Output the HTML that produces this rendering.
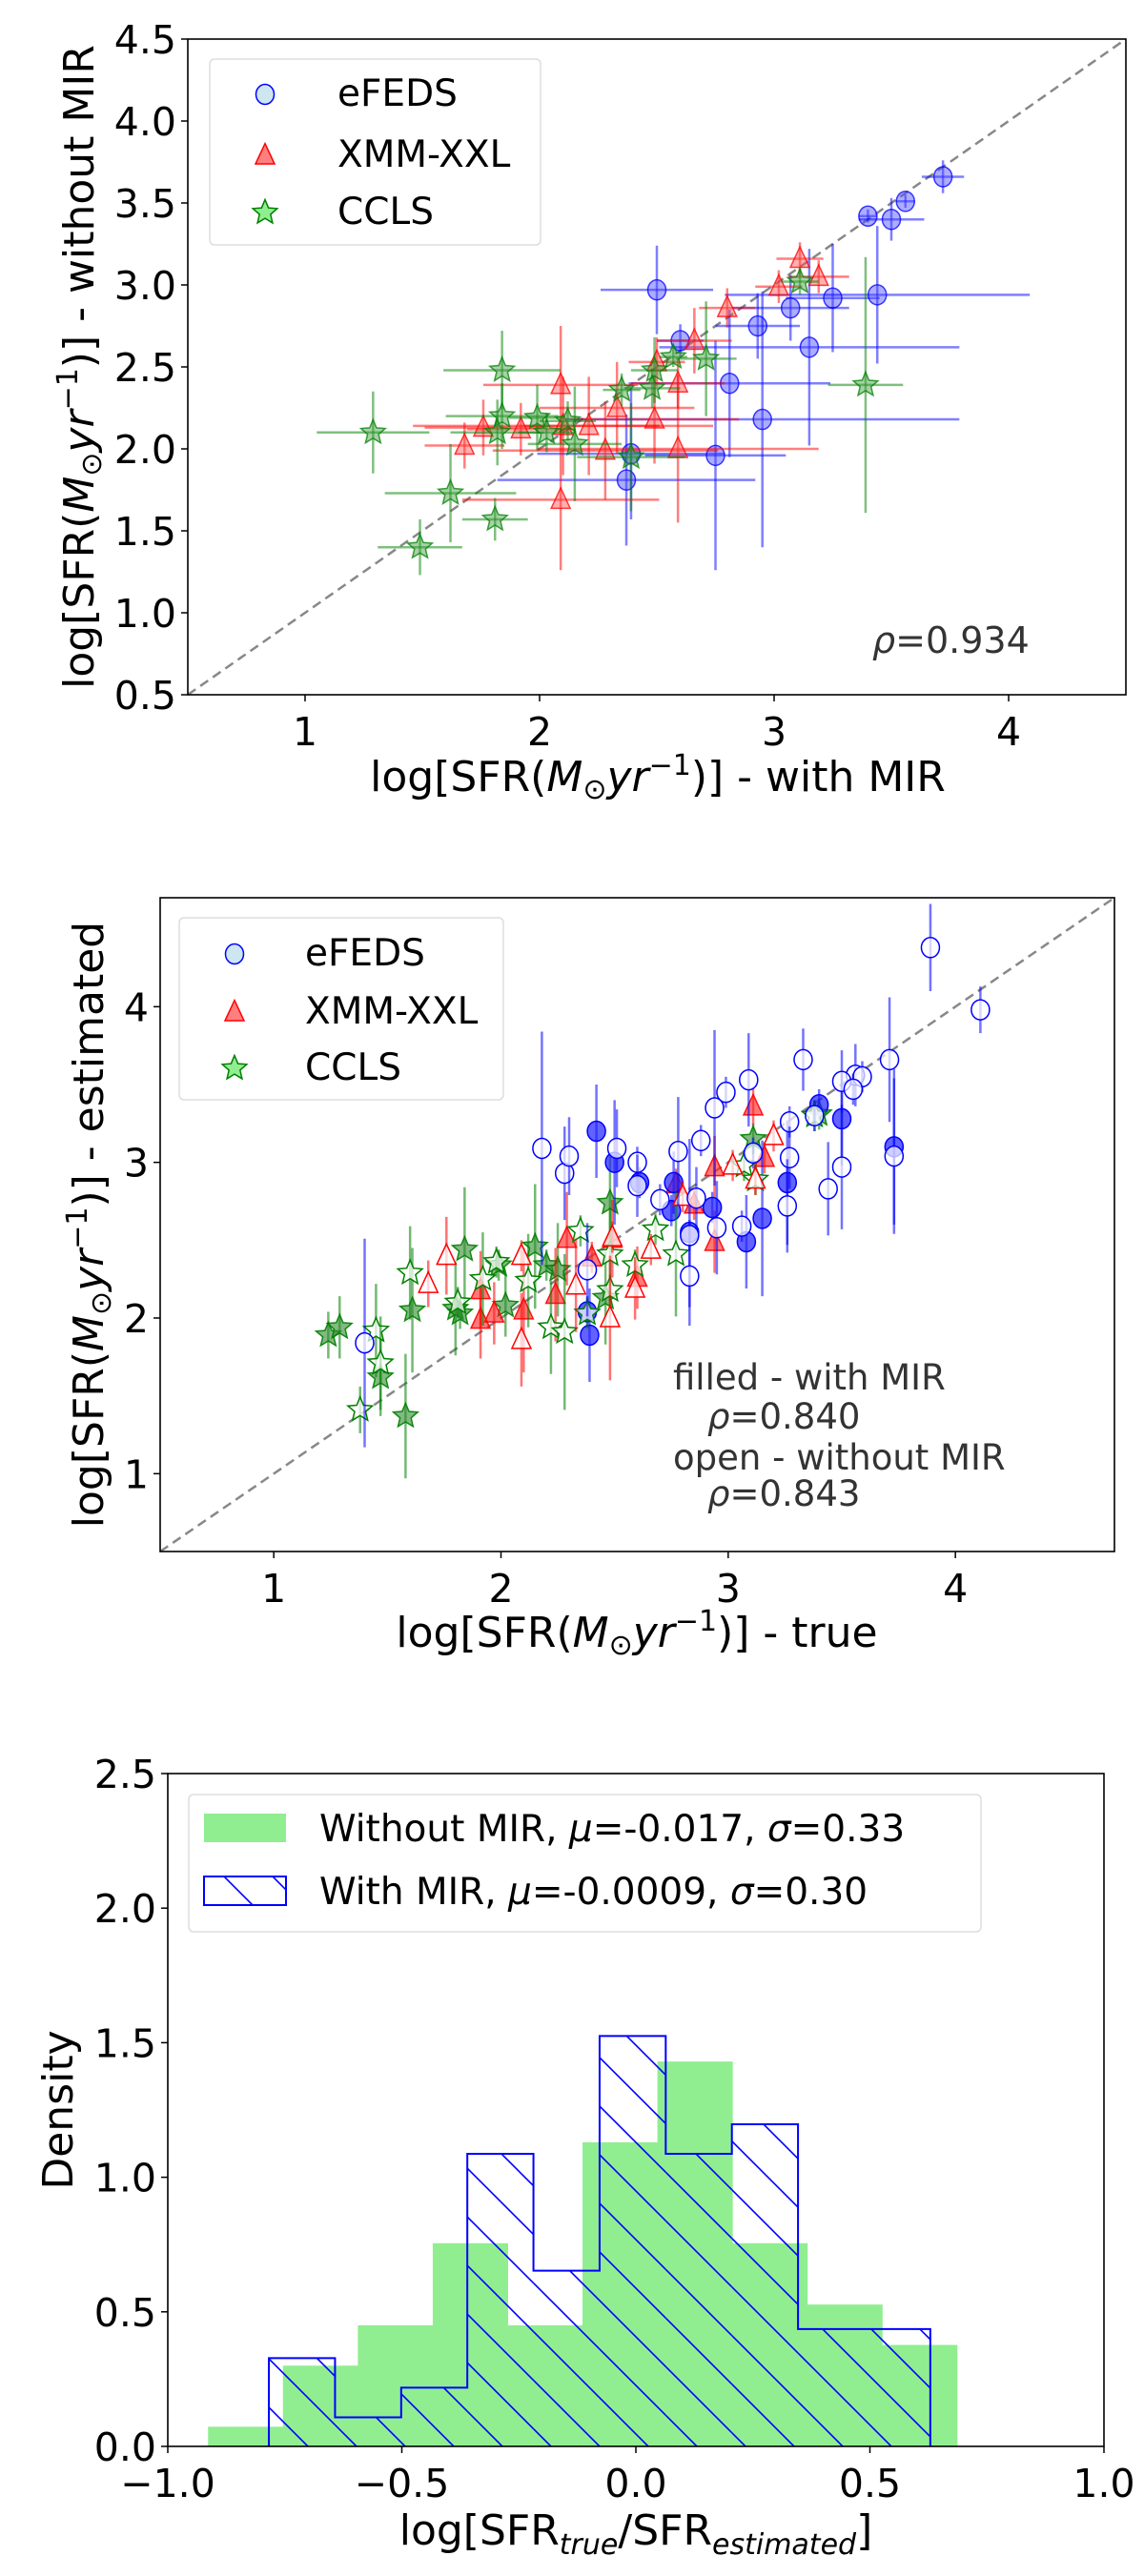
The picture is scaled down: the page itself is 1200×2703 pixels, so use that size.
<!DOCTYPE html>
<html><head><meta charset="utf-8">
<style>
html,body{margin:0;padding:0;background:#fff;}
svg{display:block;font-family:"DejaVu Sans","Liberation Sans",sans-serif;}
</style></head>
<body>
<svg id="fig" width="1200" height="2703" viewBox="0 0 1200 2703" xmlns="http://www.w3.org/2000/svg">
<defs>
<pattern id="hatch" patternUnits="userSpaceOnUse" width="51" height="51" patternTransform="translate(0,0)">
<path d="M-13,-13 L64,64 M-13,38 L13,64 M38,-13 L64,13" stroke="#0000ff" stroke-width="1.6" fill="none"/>
</pattern>
</defs>
<g id="p1"></g>
<g id="p2"></g>
<g id="p3"></g>
</svg>
<script>
// ---------- Panel 1 data: [x, y, xerr, yerr] ----------
const p1Efeds = [[3.72,3.66,0.09,0.1],[3.56,3.51,0.04,0.04],[3.40,3.42,0.04,0.04],[3.50,3.40,0.14,0.13],[2.50,2.97,0.24,0.27],[3.25,2.92,0.2,0.33],[3.44,2.94,0.65,0.42],[3.07,2.86,0.25,0.2],[2.93,2.75,0.18,0.2],[2.60,2.66,0.1,0.1],[3.15,2.62,0.64,0.6],[2.81,2.40,0.43,0.45],[2.95,2.18,0.84,0.78],[2.39,1.97,0.4,0.4],[2.75,1.96,0.3,0.7],[2.37,1.81,0.55,0.4]];
const p1Xmm = [[3.11,3.16,0.1,0.1],[3.19,3.05,0.13,0.1],[3.02,2.99,0.1,0.1],[2.80,2.86,0.12,0.12],[2.66,2.66,0.16,0.2],[2.50,2.53,0.12,0.15],[2.59,2.40,0.2,0.15],[2.09,2.39,0.33,0.36],[2.33,2.25,0.33,0.28],[2.49,2.18,0.36,0.27],[2.21,2.14,0.3,0.3],[2.10,2.14,0.64,0.3],[1.76,2.13,0.25,0.17],[1.92,2.12,0.23,0.16],[1.68,2.02,0.17,0.14],[2.28,1.99,0.48,0.3],[2.59,2.00,0.6,0.45],[2.09,1.69,0.42,0.43]];
const p1Ccls = [[3.11,3.02,0.08,0.08],[3.39,2.39,0.16,0.78],[2.71,2.55,0.13,0.35],[2.57,2.56,0.06,0.06],[2.49,2.48,0.1,0.2],[2.48,2.37,0.12,0.12],[2.35,2.36,0.08,0.1],[1.84,2.48,0.25,0.24],[1.84,2.20,0.24,0.2],[1.82,2.10,0.2,0.2],[1.99,2.19,0.12,0.2],[2.03,2.10,0.12,0.12],[2.12,2.17,0.12,0.12],[2.15,2.03,0.2,0.35],[2.39,1.95,0.23,0.33],[1.29,2.10,0.24,0.25],[1.62,1.73,0.28,0.3],[1.81,1.57,0.14,0.13],[1.49,1.40,0.18,0.17]];
const p1XTicks = [1,2,3,4];
const p1YTicks = [0.5,1.0,1.5,2.0,2.5,3.0,3.5,4.0,4.5];
const p1Rho = "0.934";

// ---------- Panel 2 data: [x, y, yerr] ----------
const p2EfedsOpen = [[3.89,4.38,0.28],[4.11,3.98,0.15],[3.71,3.66,0.4],[3.33,3.66,0.2],[3.56,3.56,0.2],[3.59,3.55,0.1],[3.50,3.52,0.2],[3.55,3.47,0.1],[3.09,3.53,0.3],[2.99,3.45,0.1],[2.94,3.35,0.5],[2.88,3.14,0.1],[2.78,3.07,0.35],[3.27,3.26,0.1],[3.27,3.03,0.2],[3.26,2.72,0.3],[3.50,2.97,0.4],[3.44,2.83,0.3],[3.73,3.04,0.5],[2.18,3.09,0.75],[2.28,2.93,0.3],[2.30,3.04,0.25],[2.51,3.09,0.25],[2.60,3.00,0.1],[2.60,2.85,0.2],[2.70,2.76,0.1],[2.83,2.53,0.1],[2.83,2.27,0.2],[2.86,2.77,0.2],[2.95,2.58,0.3],[3.06,2.59,0.1],[3.38,3.30,0.1],[3.11,3.06,0.1],[1.40,1.84,0.67],[2.38,2.31,0.3]];
const p2EfedsFilled = [[2.42,3.20,0.3],[2.50,3.00,0.4],[2.61,2.87,0.1],[2.75,2.69,0.1],[2.76,2.87,0.2],[2.83,2.55,0.6],[2.93,2.71,0.1],[3.08,2.49,0.3],[3.15,2.64,0.5],[3.26,2.87,0.4],[3.40,3.37,0.1],[3.50,3.28,0.3],[3.73,3.10,0.5],[2.39,1.89,0.3],[2.38,2.04,0.1]];
const p2XmmFilled = [[3.11,3.36,0.12],[3.16,3.03,0.1],[2.94,2.97,0.2],[2.94,2.49,0.2],[2.77,2.86,0.1],[2.85,2.73,0.1],[2.60,2.26,0.2],[2.49,2.51,0.25],[2.29,2.51,0.3],[2.24,2.15,0.3],[2.10,2.05,0.4],[1.97,2.03,0.2],[1.91,1.99,0.25],[1.91,2.18,0.25],[2.40,2.39,0.1]];
const p2XmmOpen = [[3.20,3.17,0.1],[3.02,2.98,0.1],[1.76,2.40,0.25],[1.68,2.22,0.15],[2.09,2.40,0.1],[2.09,1.86,0.3],[2.33,2.21,0.3],[2.48,2.00,0.4],[2.59,2.19,0.2],[2.66,2.44,0.1],[2.80,2.78,0.1],[2.49,2.52,0.1],[3.12,2.89,0.1]];
const p2CclsFilled = [[1.24,1.89,0.15],[1.29,1.94,0.2],[1.47,1.62,0.25],[1.58,1.37,0.4],[1.61,2.05,0.4],[1.84,2.44,0.4],[1.80,2.06,0.3],[1.82,2.03,0.1],[2.15,2.46,0.4],[2.20,2.34,0.1],[2.25,2.31,0.3],[2.48,2.74,0.3],[2.46,2.13,0.3],[3.11,3.15,0.1],[3.40,3.31,0.1],[2.02,2.08,0.2],[1.99,2.34,0.1]];
const p2CclsOpen = [[1.38,1.41,0.15],[1.45,1.92,0.3],[1.47,1.71,0.3],[1.60,2.29,0.3],[1.81,2.10,0.1],[1.92,2.25,0.3],[1.98,2.36,0.1],[2.12,2.24,0.3],[2.22,1.94,0.3],[2.28,1.91,0.5],[2.35,2.56,0.1],[2.48,2.41,0.3],[2.59,2.34,0.1],[2.68,2.57,0.1],[2.77,2.41,0.4],[3.07,2.98,0.1],[3.12,2.89,0.1],[3.38,3.30,0.1],[2.38,2.03,0.1],[2.48,2.18,0.1]];
const p2XTicks = [1,2,3,4];
const p2YTicks = [1,2,3,4];
const p2RhoFilled = "0.840";
const p2RhoOpen = "0.843";

// ---------- Panel 3 data ----------
const greenBinStart = -0.914;
const greenBinWidth = 0.16;
const greenHeights = [0.073,0.30,0.45,0.755,0.45,1.13,1.43,0.755,0.527,0.377];
const blueBinStart = -0.784;
const blueBinWidth = 0.1413;
const blueHeights = [0.328,0.108,0.218,1.087,0.653,1.525,1.087,1.197,0.436,0.436];
const p3XTicks = [-1.0,-0.5,0.0,0.5,1.0];
const p3YTicks = [0.0,0.5,1.0,1.5,2.0,2.5];

const NS = "http://www.w3.org/2000/svg";
function mk(parent, tag, attrs, text){
  const e = document.createElementNS(NS, tag);
  for (const k in attrs) e.setAttribute(k, attrs[k]);
  if (text !== undefined) e.textContent = text;
  parent.appendChild(e);
  return e;
}
function lin(d0,d1,r0,r1){ return v => r0 + (v-d0)/(d1-d0)*(r1-r0); }
function starPath(cx,cy,R){
  const r = R*0.45; let d="";
  for(let i=0;i<10;i++){
    const a = -Math.PI/2 + i*Math.PI/5;
    const rr = i%2===0?R:r;
    d += (i===0?"M":"L") + (cx+rr*Math.cos(a)).toFixed(1)+","+(cy+rr*Math.sin(a)).toFixed(1);
  }
  return d+"Z";
}
function triPath(cx,cy,s){
  return `M${cx},${cy-s*0.62}L${cx+s*0.5},${cy+s*0.45}L${cx-s*0.5},${cy+s*0.45}Z`;
}
function marker(g, kind, cx, cy, fill, stroke, op){
  let el;
  if (kind==="circle") el = mk(g,"ellipse",{cx:cx,cy:cy,rx:9.5,ry:10.5,fill:fill,stroke:stroke,"stroke-width":1.5,"fill-opacity":op,"stroke-opacity":Math.min(1,op+0.3)});
  else if (kind==="tri") el = mk(g,"path",{d:triPath(cx,cy,20),fill:fill,stroke:stroke,"stroke-width":1.5,"fill-opacity":op,"stroke-opacity":Math.min(1,op+0.3)});
  else el = mk(g,"path",{d:starPath(cx,cy,13.5),fill:fill,stroke:stroke,"stroke-width":1.5,"fill-opacity":op,"stroke-opacity":Math.min(1,op+0.3)});
  return el;
}
function frame(g, L,T,R,B, xs, ys, xt, yt, xfmt, yfmt){
  for (const t of xt){
    const x = xs(t);
    const tk = mk(g,"line",{x1:x,y1:B,x2:x,y2:B+7,stroke:"#000","stroke-width":1.5});
    
    
    const lb = mk(g,"text",{x:x,y:B+53,"font-size":41,"text-anchor":"middle",fill:"#000"}, xfmt(t));
    
    
  }
  for (const t of yt){
    const y = ys(t);
    const tk = mk(g,"line",{x1:L-7,y1:y,x2:L,y2:y,stroke:"#000","stroke-width":1.5});
    
    
    const lb = mk(g,"text",{x:L-12,y:y+15,"font-size":41,"text-anchor":"end",fill:"#000"}, yfmt(t));
    
    
  }
}
function border(g,L,T,R,B){
  const r = mk(g,"rect",{x:L,y:T,width:R-L,height:B-T,fill:"none",stroke:"#000","stroke-width":1.6});
  
  
}
function diag(g,xs,ys,a,b){
  const l = mk(g,"line",{x1:xs(a),y1:ys(a),x2:xs(b),y2:ys(b),stroke:"#888","stroke-width":2.5,"stroke-dasharray":"10,6"});
  
  
}
const BLUE="#0000ff", RED="#ff0000", GREEN="#008000";
const SFRLABEL = 'log[SFR(<tspan font-style="italic">M</tspan><tspan font-size="30" dy="8">⊙</tspan><tspan dy="-8" font-style="italic">yr</tspan><tspan font-size="30" dy="-17">−1</tspan><tspan dy="17">)] - ';

// ================= Panel 1 =================
(function(){
  const g = document.getElementById("p1");
  const L=197,T=41,R=1181,B=729;
  const xs = lin(0.5,4.5,L,R), ys = lin(0.5,4.5,B,T);
  mk(g,"rect",{x:L,y:T,width:R-L,height:B-T,fill:"#fff"});
  diag(g,xs,ys,0.5,4.5);
  const sets = [[p1Efeds,"circle",BLUE,"#4a4aff","efeds-point"],[p1Xmm,"tri",RED,"#ff5050","xmm-xxl-point"],[p1Ccls,"star",GREEN,"#3c9c3c","ccls-point"]];
  for (const [data,kind,col,fill,name] of sets){
    for (const d of data){
      const cx=xs(d[0]), cy=ys(d[1]);
      const eg = mk(g,"g",{});
      
      
      mk(eg,"line",{x1:xs(d[0]-d[2]),y1:cy,x2:xs(d[0]+d[2]),y2:cy,stroke:col,"stroke-width":2.5,"stroke-opacity":0.5});
      mk(eg,"line",{x1:cx,y1:ys(d[1]-d[3]),x2:cx,y2:ys(d[1]+d[3]),stroke:col,"stroke-width":2.5,"stroke-opacity":0.5});
      const m = marker(g,kind,cx,cy,fill,col,0.45);
      
      
    }
  }
  border(g,L,T,R,B);
  frame(g,L,T,R,B,xs,ys,p1XTicks,p1YTicks,t=>String(t),t=>t.toFixed(1));
  const lg = mk(g,"g",{});
  
  
  mk(lg,"rect",{x:220,y:62,width:347,height:195,rx:5,fill:"#fff","fill-opacity":0.8,stroke:"#ddd","stroke-width":1.5});
  const ent = [["circle","#cde6f0",BLUE,"eFEDS",97],["tri","#ff7f7f",RED,"XMM-XXL",161],["star","#90ee90",GREEN,"CCLS",221]];
  for (const [k,f,s,t,y] of ent){
    const m = marker(lg,k,278,y+2,f,s,1);
    
    
    const tx = mk(lg,"text",{x:354,y:y+14,"font-size":39,fill:"#000"},t);
    
    
  }
  const rho = mk(g,"text",{x:915,y:685,"font-size":38,fill:"#333"});
  
  
  rho.innerHTML = '<tspan font-style="italic">ρ</tspan>=' + p1Rho;
  const xl = mk(g,"text",{x:690,y:830,"font-size":44,"text-anchor":"middle",fill:"#000"});
  
  
  xl.innerHTML = SFRLABEL + 'with MIR</tspan>';
  const yl = mk(g,"text",{x:0,y:0,"font-size":44,"text-anchor":"middle",fill:"#000",transform:"translate(98,385) rotate(-90)"});
  
  
  yl.innerHTML = SFRLABEL + 'without MIR</tspan>';
})();

// ================= Panel 2 =================
(function(){
  const g = document.getElementById("p2");
  const L=168,T=942,R=1169,B=1628;
  const xs = lin(0.5,4.7,L,R), ys = lin(0.5,4.7,B,T);
  diag(g,xs,ys,0.5,4.7);
  const sets = [
    [p2CclsFilled,"star",GREEN,"#2e8b2e",0.6,"ccls-filled-point"],
    [p2XmmFilled,"tri",RED,"#ff2020",0.6,"xmm-xxl-filled-point"],
    [p2EfedsFilled,"circle",BLUE,"#2020ff",0.7,"efeds-filled-point"],
    [p2CclsOpen,"star",GREEN,"#ffffff",0.7,"ccls-open-point"],
    [p2XmmOpen,"tri",RED,"#ffffff",0.7,"xmm-xxl-open-point"],
    [p2EfedsOpen,"circle",BLUE,"#ffffff",0.7,"efeds-open-point"]];
  for (const [data,kind,col,fill,op,name] of sets){
    for (const d of data){
      const cx=xs(d[0]), cy=ys(d[1]);
      const eb = mk(g,"line",{x1:cx,y1:ys(d[1]-d[2]),x2:cx,y2:ys(d[1]+d[2]),stroke:col,"stroke-width":2.5,"stroke-opacity":0.55});
      
      
      const m = marker(g,kind,cx,cy,fill,col,op);
      
      
    }
  }
  border(g,L,T,R,B);
  frame(g,L,T,R,B,xs,ys,p2XTicks,p2YTicks,t=>String(t),t=>String(t));
  const lg = mk(g,"g",{});
  
  
  mk(lg,"rect",{x:188,y:963,width:340,height:191,rx:5,fill:"#fff","fill-opacity":0.8,stroke:"#ddd","stroke-width":1.5});
  const ent = [["circle","#cde6f0",BLUE,"eFEDS",999],["tri","#ff7f7f",RED,"XMM-XXL",1060],["star","#90ee90",GREEN,"CCLS",1119]];
  for (const [k,f,s,t,y] of ent){
    const m = marker(lg,k,246,y+2,f,s,1);
    
    
    const tx = mk(lg,"text",{x:320,y:y+14,"font-size":39,fill:"#000"},t);
    
    
  }
  const lines = [["filled - with MIR",706,1458,null],[p2RhoFilled,742,1499,true],["open - without MIR",706,1542,null],[p2RhoOpen,742,1580,true]];
  for (const [t,x,y,isRho] of lines){
    const tx = mk(g,"text",{x:x,y:y,"font-size":37,fill:"#333"});
    
    
    if (isRho) tx.innerHTML = '<tspan font-style="italic">ρ</tspan>=' + t; else tx.textContent = t;
  }
  const xl = mk(g,"text",{x:668,y:1728,"font-size":44,"text-anchor":"middle",fill:"#000"});
  
  
  xl.innerHTML = SFRLABEL + 'true</tspan>';
  const yl = mk(g,"text",{x:0,y:0,"font-size":44,"text-anchor":"middle",fill:"#000",transform:"translate(108,1285) rotate(-90)"});
  
  
  yl.innerHTML = SFRLABEL + 'estimated</tspan>';
})();

// ================= Panel 3 =================
(function(){
  const g = document.getElementById("p3");
  const L=176,T=1861,R=1158,B=2567;
  const xs = lin(-1,1,L,R), ys = lin(0,2.5,B,T);
  greenHeights.forEach((h,i)=>{
    const x0 = xs(greenBinStart + i*greenBinWidth), x1 = xs(greenBinStart + (i+1)*greenBinWidth);
    const r = mk(g,"rect",{x:x0,y:ys(h),width:x1-x0+0.5,height:B-ys(h),fill:"#90ee90"});
    
    
  });
  let d = "";
  blueHeights.forEach((h,i)=>{
    const x0 = xs(blueBinStart + i*blueBinWidth), x1 = xs(blueBinStart + (i+1)*blueBinWidth);
    const r = mk(g,"rect",{x:x0,y:ys(h),width:x1-x0,height:B-ys(h),fill:"url(#hatch)"});
    
    
    d += (i===0 ? `M${x0},${B}L${x0},${ys(h)}` : `L${x0},${ys(h)}`) + `L${x1},${ys(h)}`;
    if (i===blueHeights.length-1) d += `L${x1},${B}`;
  });
  const outline = mk(g,"path",{d:d,fill:"none",stroke:"#0000ff","stroke-width":2});
  
  
  border(g,L,T,R,B);
  frame(g,L,T,R,B,xs,ys,p3XTicks,p3YTicks,t=>(t<0?"−":"")+Math.abs(t).toFixed(1),t=>t.toFixed(1));
  const lg = mk(g,"g",{});
  
  
  mk(lg,"rect",{x:198,y:1883,width:831,height:144,rx:5,fill:"#fff","fill-opacity":0.8,stroke:"#ddd","stroke-width":1.5});
  const s1 = mk(lg,"rect",{x:214,y:1903,width:86,height:30,fill:"#90ee90"});
  
  
  const s2 = mk(lg,"rect",{x:214,y:1969,width:86,height:30,fill:"url(#hatch)",stroke:"#0000ff","stroke-width":2});
  
  
  const t1 = mk(lg,"text",{x:335,y:1932,"font-size":39,fill:"#000"});
  
  
  t1.innerHTML = 'Without MIR, <tspan font-style="italic">μ</tspan>=-0.017, <tspan font-style="italic">σ</tspan>=0.33';
  const t2 = mk(lg,"text",{x:335,y:1998,"font-size":39,fill:"#000"});
  
  
  t2.innerHTML = 'With MIR, <tspan font-style="italic">μ</tspan>=-0.0009, <tspan font-style="italic">σ</tspan>=0.30';
  const xl = mk(g,"text",{x:667,y:2670,"font-size":44,"text-anchor":"middle",fill:"#000"});
  
  
  xl.innerHTML = 'log[SFR<tspan font-size="30" dy="10" font-style="italic">true</tspan><tspan dy="-10">/SFR</tspan><tspan font-size="30" dy="10" font-style="italic">estimated</tspan><tspan dy="-10">]</tspan>';
  const yl = mk(g,"text",{x:0,y:0,"font-size":44,"text-anchor":"middle",fill:"#000",transform:"translate(76,2214) rotate(-90)"});
  
  
  yl.textContent = 'Density';
})();
</script>
</body></html>
